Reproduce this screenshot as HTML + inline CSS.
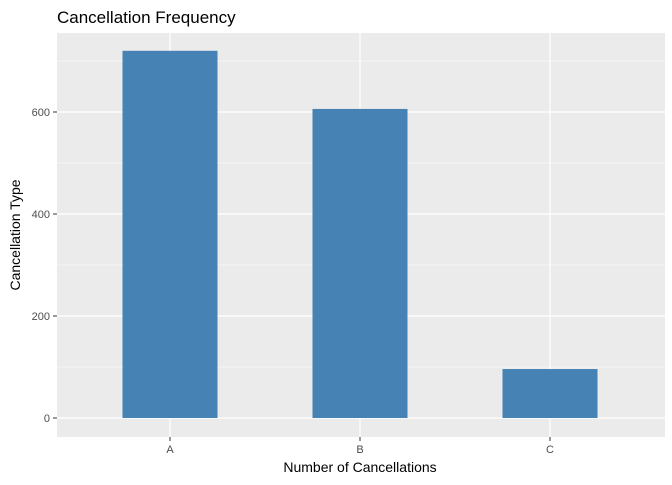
<!DOCTYPE html>
<html><head><meta charset="utf-8"><style>
body{margin:0;background:#fff;}
svg text{font-family:"Liberation Sans",sans-serif;}
</style></head><body>
<svg id="chart" width="672" height="480" xmlns="http://www.w3.org/2000/svg">
<text x="57" y="23" font-size="17" fill="#000">Cancellation Frequency</text>
<rect x="57" y="33" width="608" height="404" fill="#EBEBEB"/>
<g id="grid"></g><g id="bars"></g><g id="axes"></g>
<text x="360" y="472" font-size="14" text-anchor="middle" fill="#000">Number of Cancellations</text>
<text transform="translate(20,235) rotate(-90)" font-size="14" text-anchor="middle" fill="#000">Cancellation Type</text>
</svg>
<script>
const categories=["A","B","C"];
const values=[720,606,96];
const yTicks=[0,200,400,600];
const yMinor=[100,300,500,700];
const NS="http://www.w3.org/2000/svg";
const y0=418, pxPer=102/200;
function yScale(v){return y0-v*pxPer;}
function xScale(i){return 170+i*190;}
const bw=95;
function mk(tag,attrs,parent){const e=document.createElementNS(NS,tag);for(const k in attrs)e.setAttribute(k,attrs[k]);parent.appendChild(e);return e;}
const grid=document.getElementById('grid'),bars=document.getElementById('bars'),axes=document.getElementById('axes');
yMinor.forEach(v=>{const l=mk('line',{x1:57,x2:665,y1:yScale(v),y2:yScale(v),stroke:'#fff','stroke-width':0.6},grid);

});
yTicks.forEach(v=>{const y=yScale(v);
const l=mk('line',{x1:57,x2:665,y1:y,y2:y,stroke:'#fff','stroke-width':1.2},grid);


mk('line',{x1:53,x2:57,y1:y,y2:y,stroke:'#333','stroke-width':1},axes);
const t=mk('text',{x:50,y:y+4,'font-size':11,'text-anchor':'end',fill:'#4D4D4D'},axes);t.textContent=v;

});
categories.forEach((c,i)=>{const x=xScale(i);
const g=mk('line',{x1:x,x2:x,y1:33,y2:437,stroke:'#fff','stroke-width':1.2},grid);


const r=mk('rect',{x:x-bw/2,y:yScale(values[i]),width:bw,height:y0-yScale(values[i]),fill:'#4682B4'},bars);


mk('line',{x1:x,x2:x,y1:437,y2:441,stroke:'#333','stroke-width':1},axes);
const t=mk('text',{x:x,y:453,'font-size':11,'text-anchor':'middle',fill:'#4D4D4D'},axes);t.textContent=c;

});
</script>
</body></html>
